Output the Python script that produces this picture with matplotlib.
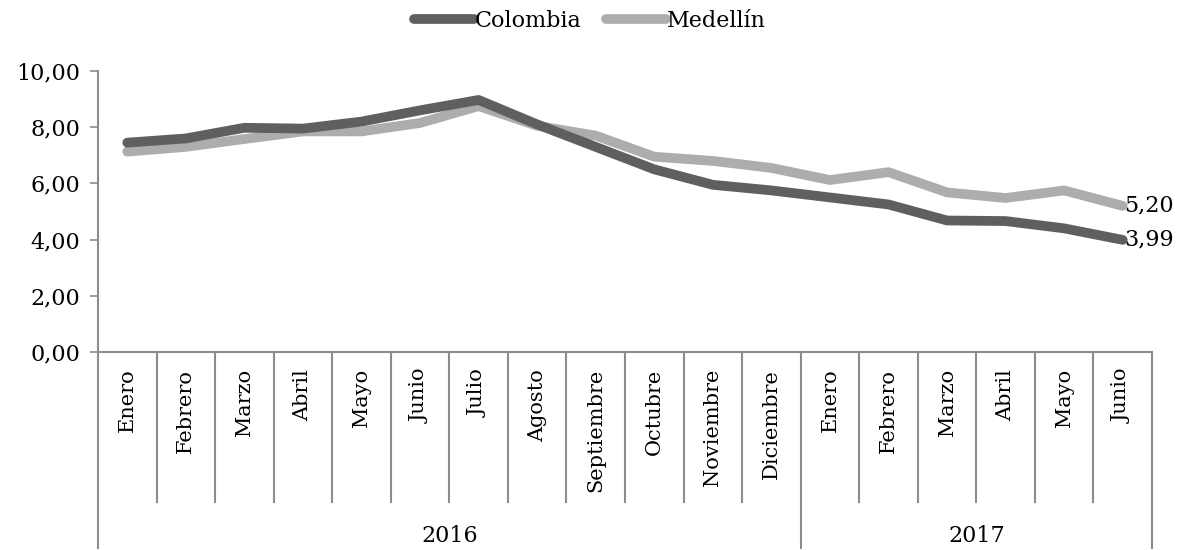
import matplotlib
matplotlib.use("Agg")
import matplotlib.pyplot as plt
from matplotlib.lines import Line2D
import matplotlib.transforms as mtransforms

months = ["Enero", "Febrero", "Marzo", "Abril", "Mayo", "Junio", "Julio", "Agosto",
          "Septiembre", "Octubre", "Noviembre", "Diciembre",
          "Enero", "Febrero", "Marzo", "Abril", "Mayo", "Junio"]
years = ["2016", "2017"]
year_counts = [12, 6]
colombia = [7.45, 7.60, 7.98, 7.95, 8.20, 8.60, 8.97, 8.10, 7.30, 6.50, 5.95, 5.75,
            5.50, 5.25, 4.68, 4.66, 4.40, 3.99]
medellin = [7.13, 7.30, 7.58, 7.85, 7.85, 8.15, 8.75, 8.05, 7.70, 6.95, 6.80, 6.55,
            6.12, 6.40, 5.68, 5.48, 5.75, 5.20]
yticks = [0, 2, 4, 6, 8, 10]

plt.rcParams['font.family'] = ['DejaVu Serif']
FS = 16
FSM = 15
DARK = "#5f5f5f"
LIGHT = "#adadad"
AXC = "#8c8c8c"

fig = plt.figure(figsize=(11.81, 5.5), dpi=100)
ax = fig.add_axes([98/1181, 198/550, (1152-98)/1181, (352-71)/550])

x = list(range(len(months)))
ax.plot(x, colombia, color=DARK, lw=7, solid_capstyle='round', solid_joinstyle='round', label="Colombia", zorder=3)
ax.plot(x, medellin, color=LIGHT, lw=7, solid_capstyle='round', solid_joinstyle='round', label="Medellín", zorder=2)

ax.set_xlim(-0.5, len(months) - 0.5)
ax.set_ylim(0, 10)
ax.set_yticks(yticks)
ax.set_yticklabels([f"{v:.2f}".replace(".", ",") for v in yticks], fontsize=FS)
ax.tick_params(axis='y', direction='out', length=6, color=AXC, width=1.2, pad=7)
ax.set_xticks([])
for s in ["top", "right"]:
    ax.spines[s].set_visible(False)
ax.spines["left"].set_visible(False)
ax.spines["bottom"].set_color(AXC)
ax.spines["bottom"].set_linewidth(1.5)

trans = mtransforms.blended_transform_factory(ax.transData, ax.transAxes)
# left axis line extending down through category area
ax.add_line(Line2D([-0.5, -0.5], [-0.698, 1.0], transform=trans, color=AXC, lw=1.5, clip_on=False))

# month separators
year_bounds = [-0.5]
c = -0.5
for n in year_counts:
    c += n
    year_bounds.append(c)
for i in range(1, len(months) + 1):
    b = i - 0.5
    if b in year_bounds:
        ax.add_line(Line2D([b, b], [0, -0.698], transform=trans, color=AXC, lw=1.5, clip_on=False))
    else:
        ax.add_line(Line2D([b, b], [0, -0.534], transform=trans, color=AXC, lw=1.5, clip_on=False))

for i, m in enumerate(months):
    ax.text(i, -0.06, m, transform=trans, rotation=90, ha='center', va='top', fontsize=FSM)

for j, y in enumerate(years):
    mid = (year_bounds[j] + year_bounds[j + 1]) / 2
    ax.text(mid, -0.655, y, transform=trans, ha='center', va='center', fontsize=FS)

# end labels
ax.annotate(f"{medellin[-1]:.2f}".replace(".", ","), (x[-1], medellin[-1]), xytext=(1, 0),
            textcoords='offset points', ha='left', va='center', fontsize=FS)
ax.annotate(f"{colombia[-1]:.2f}".replace(".", ","), (x[-1], colombia[-1]), xytext=(1, 0),
            textcoords='offset points', ha='left', va='center', fontsize=FS)

fig.legend(loc='center', bbox_to_anchor=(590/1181, 1 - 21/550), ncol=2, frameon=False,
           fontsize=FS, handlelength=2.7, handletextpad=0.05, columnspacing=1.1)

fig.savefig("out.png", dpi=100)
